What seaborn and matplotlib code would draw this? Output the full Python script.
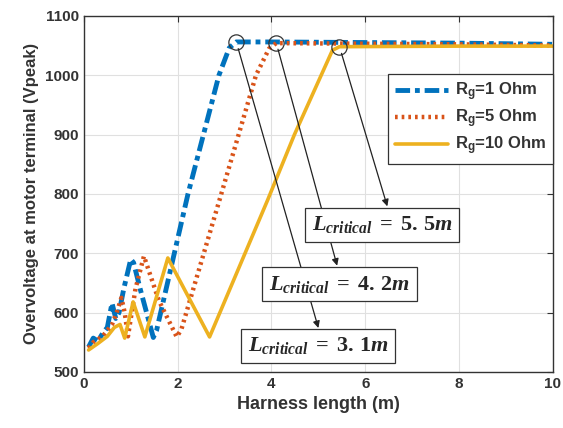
import numpy as np
import pandas as pd
import matplotlib
matplotlib.use("Agg")
import matplotlib.pyplot as plt
import seaborn as sns

# Overvoltage curves (harness length in m, voltage in Vpeak)
x_rg1 = [0.1, 0.2, 0.3, 0.4, 0.5, 0.6, 0.68, 0.75, 0.85, 1.0, 1.06, 1.2, 1.48, 1.55,
         2.22, 2.88, 3.1, 3.25, 4.0, 6.0, 8.0, 10.0]
v_rg1 = [542, 557, 552, 565, 575, 616, 590, 600, 640, 690, 684, 640, 558, 570,
         800, 1000, 1046, 1056, 1056, 1055, 1054, 1052]

x_rg5 = [0.1, 0.2, 0.3, 0.4, 0.5, 0.6, 0.7, 0.8, 0.87, 0.94, 1.1, 1.28, 1.6, 1.98,
         2.08, 2.93, 3.67, 3.95, 4.1, 6.0, 8.0, 10.0]
v_rg5 = [540, 550, 555, 560, 570, 580, 600, 625, 600, 560, 640, 695, 620, 559,
         572, 800, 1000, 1045, 1054, 1053, 1052, 1050]

x_rg10 = [0.1, 0.3, 0.5, 0.65, 0.77, 0.87, 1.05, 1.3, 1.79, 2.68, 3.92, 4.49, 5.3, 5.45, 8.0, 10.0]
v_rg10 = [537, 548, 560, 575, 580, 557, 618, 559, 692, 559, 790, 900, 1042, 1048, 1049, 1049]

labels = ["R$_{\\mathregular{g}}$=1 Ohm", "R$_{\\mathregular{g}}$=5 Ohm", "R$_{\\mathregular{g}}$=10 Ohm"]

# critical lengths: circle point and label box position
crit_pts = [(3.25, 1056), (4.1, 1055), (5.45, 1048)]
crit_text = ["3.1", "4.2", "5.5"]
box_xy = [(5.0, 544), (5.45, 648), (6.36, 748)]
tip_xy = [(5.0, 574), (5.4, 679), (6.47, 779)]

sns.set_style("whitegrid")
plt.rcParams['font.family'] = ['Liberation Sans', 'DejaVu Sans']
plt.rcParams['mathtext.fontset'] = 'custom'
plt.rcParams['mathtext.it'] = 'Liberation Serif:italic:bold'
plt.rcParams['mathtext.rm'] = 'Liberation Serif:bold'
plt.rcParams['mathtext.bf'] = 'Liberation Serif:bold'

fig = plt.figure(figsize=(5.63, 4.28), dpi=100)
ax = fig.add_axes([0.149, 0.131, 0.833, 0.832])

sns.lineplot(x=x_rg1, y=v_rg1, ax=ax, color="#0072BD", lw=3.5,
             linestyle=(0, (3, 1, 1, 1)), label=labels[0])
sns.lineplot(x=x_rg5, y=v_rg5, ax=ax, color="#D95319", lw=3.2,
             linestyle=(0, (0.6, 0.9)), label=labels[1])
sns.lineplot(x=x_rg10, y=v_rg10, ax=ax, color="#EDB120", lw=2.6,
             linestyle="-", label=labels[2])

for (px, py), t, bxy, txy in zip(crit_pts, crit_text, box_xy, tip_xy):
    ax.plot(px, py, marker='o', ms=11, mfc='none', mec='#333333', mew=0.9)
    ax.annotate('', xy=txy, xytext=(px, py),
                arrowprops=dict(arrowstyle='-|>', color='#222222', lw=0.9,
                                shrinkA=5, shrinkB=0, mutation_scale=10))
    ax.text(bxy[0], bxy[1], r"$L_{critical}\;\mathrm{=\;%s}m$" % t.replace('.', '.\\,'),
            fontsize=16, ha='center', va='center',
            bbox=dict(boxstyle='square,pad=0.3', fc='white', ec='#333333', lw=0.9))

ax.set_xlim(0, 10)
ax.set_ylim(500, 1100)
ax.set_xticks([0, 2, 4, 6, 8, 10])
ax.set_yticks(range(500, 1101, 100))
ax.grid(True, color='#e0e0e0', lw=0.8)
for s in ax.spines.values():
    s.set_color('#333333')
    s.set_linewidth(1.0)
ax.tick_params(direction='in', top=True, right=True, length=4, color='#333333',
               labelsize=11)
for lab in ax.get_xticklabels() + ax.get_yticklabels():
    lab.set_fontweight('bold')
    lab.set_color('#333333')

ax.set_xlabel("Harness length (m)", fontsize=13, fontweight='bold', color='#333333')
ax.set_ylabel("Overvoltage at motor terminal (Vpeak)", fontsize=12, fontweight='bold',
              color='#333333')

leg = ax.legend(loc='upper right', bbox_to_anchor=(1.0, 0.837), borderaxespad=0,
                fancybox=False, framealpha=1, edgecolor='#333333', handlelength=3.2,
                handletextpad=0.4, fontsize=12, borderpad=0.4, labelspacing=0.3)
for t in leg.get_texts():
    t.set_fontweight('bold')
    t.set_color('#333333')
leg.get_frame().set_linewidth(0.9)

fig.savefig("out.png", dpi=100)
